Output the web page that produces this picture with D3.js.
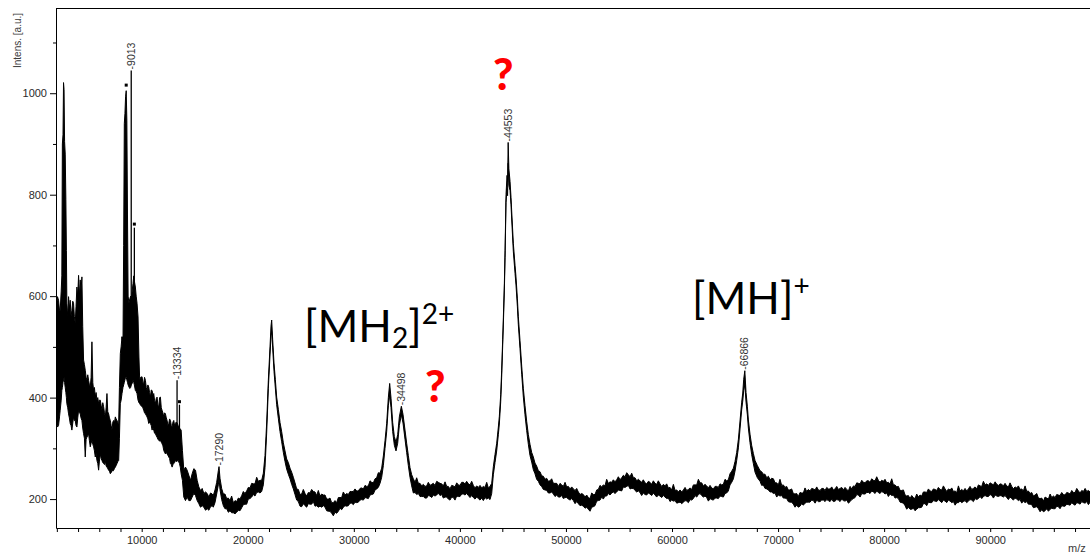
<!DOCTYPE html>
<html>
<head>
<meta charset="utf-8">
<script src="https://cdn.jsdelivr.net/npm/d3@7"></script>
<style>
  html, body { margin: 0; padding: 0; background: #fff; overflow: hidden; }
  svg { display: block; }
</style>
</head>
<body>
<svg id="chart" width="1090" height="556"></svg>
<script>
// MALDI-TOF spectrum, binned: each bin stores the m/z position and the
// upper / lower edge of the recorded intensity trace (a.u.).
const mz = [
  // 2 - 16.5 kDa
  1940,2000,2060,2160,2250,2315,2410,2470,2520,2580,
  2630,2680,2730,2790,2850,2900,2945,3025,3103,3180,
  3260,3340,3418,3500,3575,3650,3733,3810,3890,3970,
  4048,4130,4205,4280,4363,4440,4520,4600,4678,4760,
  4835,4915,4993,5070,5150,5230,5308,5390,5465,5545,
  5623,5700,5780,5860,5938,6015,6095,6175,6253,6330,
  6410,6490,6568,6645,6725,6800,6883,6960,7040,7120,
  7198,7280,7355,7430,7513,7590,7670,7750,7828,7900,
  7985,8060,8143,8237,8300,8360,8420,8480,8540,8600,
  8660,8720,8800,8880,8960,9025,9100,9182,9250,9308,
  9403,9480,9560,9655,9740,9812,9900,10033,10110,10190,
  10270,10350,10430,10505,10580,10663,10740,10820,10900,10978,
  11060,11135,11210,11293,11370,11450,11530,11608,11690,11765,
  11845,11923,12000,12080,12160,12238,12320,12395,12475,12553,
  12630,12710,12790,12868,12950,13025,13100,13183,13260,13340,
  13440,13560,13640,13718,13840,13970,14128,14285,14443,14600,
  14758,14915,15073,15230,15388,15545,15703,15860,16018,16175,
  16333,
  // 16.5 - 38 kDa
  16490,16650,16750,16910,17070,17226,17290,17383,17540,17697,
  17850,18011,18170,18326,18480,18640,18800,18954,19110,19269,
  19430,19583,19740,19897,20050,20212,20370,20526,20680,20840,
  21000,21155,21312,21469,21626,21783,21940,22097,22192,22255,
  22350,22475,22600,22726,22883,23040,23197,23355,23512,23669,
  23826,23983,24140,24297,24455,24612,24770,24926,25083,25240,
  25400,25555,25710,25869,26025,26183,26340,26498,26655,26812,
  26970,27126,27285,27441,27600,27755,27910,28069,28225,28384,
  28540,28698,28855,29012,29170,29326,29485,29641,29800,29955,
  30110,30269,30425,30584,30740,30898,31055,31212,31370,31527,
  31685,31841,32000,32155,32310,32470,32627,32784,32941,33098,
  33255,33381,33507,33664,33821,33978,34135,34292,34481,34638,
  34826,34983,35140,35298,35455,35612,35770,35926,36085,36241,
  36400,36555,36710,36869,37025,37184,37340,37498,37655,37812,
  37970,38127,
  // 38 - 52 kDa
  38285,38440,38600,38755,38912,39070,39225,39383,39540,39700,
  39855,40013,40170,40327,40484,40640,40800,40956,41113,41270,
  41427,41585,41742,41899,42056,42213,42370,42528,42685,42842,
  43000,43156,43313,43470,43627,43720,43850,43940,44035,44100,
  44195,44260,44350,44445,44500,44553,44620,44730,44820,44880,
  45040,45200,45290,45420,45510,45670,45830,45985,46140,46300,
  46455,46610,46770,46925,47080,47240,47400,47555,47710,47870,
  48030,48185,48340,48500,48655,48815,48970,49130,49285,49445,
  49600,49757,49915,50070,50230,50390,50545,50700,50860,51013,
  51170,51330,51485,51640,51800,51955,52110,52270,
  // 52 - 75 kDa
  52430,52585,52740,52900,53055,53210,53370,53525,53680,53840,
  54000,54155,54310,54470,54625,54785,54940,55100,55255,55415,
  55570,55730,55885,56045,56200,56360,56515,56670,56830,56980,
  57140,57295,57455,57610,57770,57925,58085,58240,58400,58555,
  58710,58870,59025,59185,59340,59500,59655,59815,59970,60130,
  60290,60445,60600,60760,60915,61075,61230,61385,61545,61700,
  61855,62015,62170,62330,62485,62640,62800,62955,63115,63270,
  63430,63585,63740,63900,64055,64215,64370,64530,64685,64840,
  65000,65150,65310,65470,65630,65790,65940,66100,66260,66420,
  66570,66670,66760,66866,66980,67105,67200,67355,67510,67670,
  67830,68050,68300,68455,68610,68770,68930,69090,69245,69400,
  69560,69715,69870,70025,70180,70340,70495,70650,70810,70965,
  71120,71280,71440,71600,71755,71910,72070,72225,72385,72540,
  72700,72855,73010,73170,73330,73490,73645,73800,73960,74115,
  74275,74430,74590,74745,74900,
  // 75 - 100 kDa
  75060,75215,75375,75530,75690,75845,76000,76160,76315,76475,
  76630,76790,76945,77105,77260,77420,77575,77735,77890,78050,
  78205,78365,78520,78670,78830,78985,79145,79300,79455,79615,
  79770,79930,80085,80245,80400,80560,80715,80875,81030,81190,
  81345,81505,81660,81820,81975,82130,82285,82445,82600,82760,
  82915,83070,83230,83385,83545,83700,83860,84015,84175,84330,
  84490,84645,84800,84960,85115,85275,85430,85590,85745,85905,
  86060,86220,86375,86535,86690,86850,87005,87160,87320,87470,
  87630,87785,87945,88100,88260,88415,88575,88730,88890,89045,
  89205,89360,89520,89675,89835,89990,90150,90305,90465,90620,
  90780,90935,91090,91240,91400,91555,91715,91870,92030,92185,
  92345,92500,92660,92815,92975,93130,93290,93445,93600,93760,
  93915,94075,94230,94390,94545,94705,94860,95020,95175,95335,
  95490,95650,95805,95965,96120,96270,96430,96585,96745,96900,
  97060,97215,97375,97530,97690,97845,98000,98160,98320,98475,
  98630,98790,98950,99105,99260,99420,99600
];

const intensityHigh = [
  592,586,599,592,572,572,610,640,900,918,
  1021,1007,905,880,790,690,586,560,599,575,
  592,560,572,590,586,560,546,580,618,600,
  641,600,632,610,638,540,474,465,454,440,
  434,445,434,425,421,440,510,430,414,420,
  401,410,395,400,388,395,395,385,375,390,
  382,370,362,380,408,372,368,360,355,345,
  336,352,355,350,362,358,355,350,349,420,
  487,500,520,513,700,940,960,993,1005,947,
  760,600,586,595,600,592,610,625,640,630,
  618,600,586,559,480,434,440,441,430,428,
  440,434,420,414,425,421,410,401,415,414,
  405,408,395,388,398,401,385,382,400,401,
  380,375,370,362,370,368,360,355,345,349,
  358,355,345,342,352,355,345,349,352,350,
  345,340,338,336,296,257,263,257,247,237,
  250,260,257,237,224,217,221,211,214,211,
  204,
  212,210,207,218,233,256,264,241,221,210,
  210,201,202,197,206,193,197,195,202,200,
  207,215,211,216,223,222,231,230,230,243,
  235,237,237,251,286,350,434,500,541,553,
  514,468,436,401,377,351,333,311,295,279,
  272,261,253,243,232,220,219,209,210,219,
  211,206,213,212,219,215,214,207,217,206,
  210,208,208,200,200,202,193,193,197,193,
  203,203,203,214,208,211,209,215,215,215,
  220,216,216,221,222,220,227,225,226,236,
  233,232,240,242,252,251,261,285,315,349,
  400,428,399,351,323,312,327,362,383,367,
  336,310,286,262,248,240,233,242,231,231,
  226,229,225,226,233,227,229,231,227,235,
  233,231,
  230,226,234,225,225,220,227,226,224,232,
  228,227,233,233,230,235,230,228,235,227,
  222,226,223,227,222,225,223,233,222,225,
  231,264,288,310,342,363,406,454,515,558,
  625,690,800,838,826,903,851,826,795,770,
  704,661,638,596,560,512,462,418,384,353,
  327,308,292,283,271,265,256,254,246,245,
  239,241,235,236,240,231,231,231,225,231,
  228,225,233,224,225,220,224,220,217,221,
  214,209,211,209,204,208,203,201,
  212,209,209,218,219,227,224,228,226,239,
  231,234,233,238,234,238,244,238,242,247,
  244,252,248,244,251,242,242,236,239,236,
  233,238,232,230,235,233,229,236,231,229,
  236,230,225,229,226,230,222,223,218,229,
  217,218,214,218,214,218,223,217,219,222,
  219,228,228,228,239,232,232,226,229,226,
  222,227,222,220,225,225,223,230,228,229,
  239,236,238,250,255,261,274,292,318,356,
  391,409,436,453,410,383,356,328,306,290,
  276,266,256,254,249,249,242,245,238,241,
  240,232,232,228,239,227,228,223,225,218,
  218,220,211,210,211,205,213,212,212,222,
  215,219,216,221,220,218,224,218,217,221,
  221,217,223,220,220,
  224,218,220,225,219,221,223,218,223,219,
  216,225,220,226,225,232,231,230,237,233,
  232,236,236,233,240,237,236,244,237,233,
  237,235,239,232,233,230,240,228,228,224,
  225,217,217,218,208,206,207,201,207,203,
  201,210,204,208,206,214,214,213,220,216,
  215,220,219,217,223,219,218,226,220,215,
  220,218,222,215,216,213,226,216,219,216,
  221,216,220,225,219,221,224,220,228,226,
  225,235,228,230,227,232,230,228,234,229,
  227,230,229,226,231,226,224,232,225,220,
  224,222,226,219,220,216,226,215,216,211,
  213,206,208,211,202,201,202,196,204,202,
  200,210,203,206,203,209,208,207,213,209,
  208,213,212,210,217,213,213,221,216,212,
  217,215,221,215,217,214,226
];

const intensityLow = [
  345,349,342,345,362,375,395,414,420,430,
  435,440,430,420,410,400,388,380,368,360,
  349,345,336,350,362,355,355,345,342,360,
  375,370,368,360,355,340,329,320,283,318,
  322,325,329,315,303,310,316,308,303,295,
  283,290,276,270,257,275,289,280,276,272,
  270,268,276,265,263,260,257,255,250,252,
  257,255,257,260,263,266,270,274,276,320,
  388,395,408,420,425,430,435,440,440,435,
  430,425,421,418,420,425,428,434,430,425,
  414,412,408,395,390,388,385,382,380,375,
  370,368,365,362,358,349,352,349,345,336,
  340,336,330,329,325,322,318,316,314,316,
  312,309,305,296,292,289,292,289,286,283,
  280,270,268,263,268,270,272,276,274,275,
  276,270,263,250,237,204,197,204,197,197,
  204,211,207,197,191,184,187,184,178,181,
  178,
  185,187,184,193,210,228,240,219,199,187,
  181,181,174,177,173,173,171,174,178,177,
  183,189,190,190,200,201,204,209,206,213,
  214,212,215,228,262,330,418,484,522,530,
  498,452,419,386,359,333,313,292,274,259,
  249,240,229,220,209,198,195,186,185,191,
  187,184,191,190,190,195,186,187,184,186,
  184,187,184,177,176,176,172,167,174,172,
  176,182,179,184,187,186,187,192,192,189,
  194,193,194,198,199,198,203,202,201,208,
  209,210,218,220,223,231,243,266,300,333,
  384,405,380,333,306,295,310,345,366,350,
  318,292,266,243,226,212,213,209,211,205,
  205,205,202,202,207,206,203,208,206,208,
  212,207,
  209,202,204,204,200,198,204,203,198,206,
  205,205,210,210,208,211,207,203,207,203,
  200,204,201,198,202,197,203,200,202,199,
  211,248,272,295,327,348,392,440,502,545,
  612,676,785,812,798,862,818,808,780,754,
  688,645,622,580,544,496,446,401,366,335,
  308,286,273,258,250,239,235,228,225,219,
  218,217,212,212,214,210,205,208,204,204,
  207,201,203,203,200,198,201,197,191,195,
  191,187,188,186,182,184,180,176,
  184,185,187,196,197,198,204,200,206,206,
  211,208,212,214,211,214,218,217,216,224,
  223,225,227,220,221,221,217,214,216,213,
  207,212,209,208,212,210,207,212,208,204,
  208,206,203,207,204,201,202,195,198,196,
  197,192,193,194,191,194,197,196,193,199,
  198,201,207,204,209,211,207,204,206,203,
  196,201,199,198,202,202,201,206,205,204,
  211,212,216,228,233,240,255,276,301,340,
  376,393,414,425,391,366,340,311,288,270,
  253,242,235,227,228,221,220,218,214,214,
  211,212,204,208,206,207,202,202,201,195,
  194,194,190,184,188,184,186,191,188,192,
  194,194,194,198,197,192,198,195,195,198,
  198,195,199,197,195,
  200,195,196,199,198,195,200,197,196,198,
  192,195,199,201,203,209,208,204,211,210,
  210,213,213,211,216,214,211,216,213,211,
  215,213,210,212,205,210,207,208,202,203,
  201,194,193,192,187,180,184,180,180,182,
  177,180,183,183,184,191,191,187,194,193,
  193,197,196,195,199,196,193,198,196,193,
  198,196,193,195,188,193,193,196,193,195,
  197,193,196,199,198,195,201,199,201,205,
  201,205,207,205,205,209,207,202,208,206,
  205,207,206,204,207,203,199,204,201,198,
  202,200,197,199,192,196,193,195,190,190,
  189,183,184,185,181,175,179,175,177,181,
  176,180,182,181,181,186,185,181,187,186,
  186,190,189,188,193,190,188,193,192,190,
  195,193,192,195,189,194,193
];

// Narrow single-channel spikes rising above the trace
const spikeMz = [9013, 9308, 13334, 13560];
const spikeTop = [1045, 735, 434, 386];
const spikeBase = [590, 620, 300, 330];

// Small peak-picking markers
const markerMz = [8237, 8540, 9308, 13560];
const markerIntensity = [517, 1016, 742, 392];

// Labelled peaks (m/z) and the intensity at their apex
const peakMz = [9013, 13334, 17290, 34498, 44553, 66866];
const peakIntensity = [1045, 434, 264, 383, 903, 453];

// Axis ticks
const xTickValues = [10000, 20000, 30000, 40000, 50000, 60000, 70000, 80000, 90000];
const xMinorTickValues = [2000, 4000, 6000, 8000, 12000, 14000, 16000, 18000, 22000, 24000, 26000, 28000,
  32000, 34000, 36000, 38000, 42000, 44000, 46000, 48000, 52000, 54000, 56000, 58000,
  62000, 64000, 66000, 68000, 72000, 74000, 76000, 78000, 82000, 84000, 86000, 88000,
  92000, 94000, 96000, 98000];
const yTickValues = [200, 400, 600, 800, 1000];
const yMinorTickValues = [300, 500, 700, 900, 1100];

const svg = d3.select("#chart");
const plot = { left: 56, top: 8, right: 1096.25, bottom: 528 };

const x = d3.scaleLinear().domain([1920, 100000]).range([plot.left, plot.right]);
const y = d3.scaleLinear().domain([143, 1168]).range([plot.bottom, plot.top]);

const axisFont = "'Liberation Sans', Arial, sans-serif";

svg.append("defs").append("clipPath").attr("id", "plot-clip")
  .append("rect")
  .attr("x", plot.left).attr("y", plot.top)
  .attr("width", plot.right - plot.left).attr("height", plot.bottom - plot.top);

// Spectrum trace
const idx = d3.range(mz.length);
const area = d3.area()
  .x(i => x(mz[i]))
  .y0(i => y(intensityLow[i]))
  .y1(i => y(intensityHigh[i]));

const trace = svg.append("g").attr("clip-path", "url(#plot-clip)");
trace.append("path")
  .attr("d", area(idx))
  .attr("fill", "#000")
  .attr("stroke", "#000")
  .attr("stroke-width", 1)
  .attr("stroke-linejoin", "miter");

trace.selectAll("line.spike")
  .data(d3.range(spikeMz.length))
  .join("line")
  .attr("class", "spike")
  .attr("x1", i => x(spikeMz[i])).attr("x2", i => x(spikeMz[i]))
  .attr("y1", i => y(spikeBase[i])).attr("y2", i => y(spikeTop[i]))
  .attr("stroke", "#000").attr("stroke-width", 1.3);

trace.selectAll("rect.marker")
  .data(d3.range(markerMz.length))
  .join("rect")
  .attr("class", "marker")
  .attr("x", i => x(markerMz[i]) - 1.5)
  .attr("y", i => y(markerIntensity[i]) - 1.5)
  .attr("width", 3).attr("height", 3)
  .attr("fill", "#000");

// Frame: top border
svg.append("line")
  .attr("x1", plot.left).attr("x2", plot.right)
  .attr("y1", plot.top + 0.5).attr("y2", plot.top + 0.5)
  .attr("stroke", "#000").attr("stroke-width", 1);

// X axis
svg.append("g").attr("transform", `translate(0,${plot.bottom})`)
  .call(d3.axisBottom(x).tickValues(xTickValues).tickSize(4).tickSizeOuter(0).tickPadding(4)
    .tickFormat(d3.format("d")));
svg.append("g").attr("transform", `translate(0,${plot.bottom})`)
  .call(d3.axisBottom(x).tickValues(xMinorTickValues).tickSize(4).tickSizeOuter(0).tickFormat(""))
  .call(g => g.select(".domain").remove());

// Y axis
svg.append("g").attr("transform", `translate(${plot.left},0)`)
  .call(d3.axisLeft(y).tickValues(yTickValues).tickSize(6).tickSizeOuter(0).tickPadding(3)
    .tickFormat(d3.format("d")));
svg.append("g").attr("transform", `translate(${plot.left},0)`)
  .call(d3.axisLeft(y).tickValues(yMinorTickValues).tickSize(3).tickSizeOuter(0).tickFormat(""))
  .call(g => g.select(".domain").remove());

svg.selectAll(".tick text")
  .attr("font-family", axisFont)
  .attr("font-size", 11)
  .attr("fill", "#2a2a2a");
svg.selectAll(".domain, .tick line").attr("stroke", "#000");

// Axis titles
svg.append("text")
  .attr("transform", "translate(21,68) rotate(-90)")
  .attr("font-family", axisFont).attr("font-size", 10)
  .attr("fill", "#3a3a3a")
  .text("Intens. [a.u.]");

svg.append("text")
  .attr("x", 1068).attr("y", 552)
  .attr("font-family", axisFont).attr("font-size", 11)
  .attr("fill", "#3a3a3a")
  .text("m/z");

// Peak labels
svg.selectAll("text.peak")
  .data(d3.range(peakMz.length))
  .join("text")
  .attr("class", "peak")
  .attr("transform", i => `translate(${x(peakMz[i]) + 3.6},${y(peakIntensity[i]) - 1}) rotate(-90)`)
  .attr("font-family", axisFont).attr("font-size", 10.5)
  .attr("fill", "#333")
  .text(i => "-" + peakMz[i]);

// Ion annotations
const noteFont = "Lato, 'Open Sans', sans-serif";
const mh2 = svg.append("text")
  .attr("x", 304).attr("y", 342)
  .attr("font-family", noteFont).attr("font-size", 44).attr("fill", "#000");
mh2.append("tspan").text("[MH");
mh2.append("tspan").attr("font-size", 28).attr("dy", 6).text("2");
mh2.append("tspan").attr("dy", -6).text("]");
mh2.append("tspan").attr("font-size", 28).attr("dy", -18).text("2+");

const mh = svg.append("text")
  .attr("x", 692).attr("y", 314)
  .attr("font-family", noteFont).attr("font-size", 44).attr("fill", "#000");
mh.append("tspan").text("[MH]");
mh.append("tspan").attr("font-size", 28).attr("dy", -18).text("+");

// Unassigned peaks
svg.append("text")
  .attr("x", 493).attr("y", 90)
  .attr("font-family", noteFont).attr("font-weight", 900).attr("font-size", 44)
  .attr("fill", "#ff0000").text("?");
svg.append("text")
  .attr("x", 425).attr("y", 402)
  .attr("font-family", noteFont).attr("font-weight", 900).attr("font-size", 44)
  .attr("fill", "#ff0000").text("?");
</script>
</body>
</html>
